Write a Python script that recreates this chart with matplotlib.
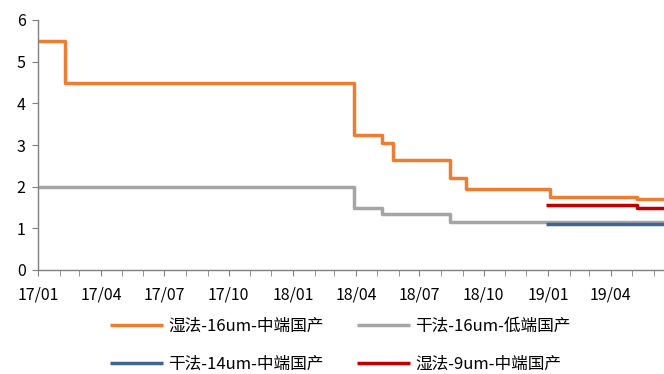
import matplotlib
matplotlib.use("Agg")
import matplotlib.pyplot as plt
import matplotlib.dates as mdates
import numpy as np

plt.rcParams['font.family'] = ['Noto Sans CJK SC', 'DejaVu Sans']

# Price step series (date of change, level)
wet16_dates = ["2017-01-01", "2017-02-08", "2018-03-29", "2018-05-08", "2018-05-24",
               "2018-08-13", "2018-09-05", "2019-01-04", "2019-05-08", "2019-06-16"]
wet16_vals = [5.5, 4.5, 3.25, 3.05, 2.65, 2.2, 1.95, 1.75, 1.7, 1.7]

dry16_dates = ["2017-01-01", "2018-03-29", "2018-05-08", "2018-08-14", "2019-06-16"]
dry16_vals = [2.0, 1.5, 1.35, 1.15, 1.15]

dry14_dates = ["2018-12-29", "2019-06-16"]
dry14_vals = [1.1, 1.1]

wet9_dates = ["2018-12-29", "2019-05-08", "2019-06-16"]
wet9_vals = [1.55, 1.5, 1.5]

series = [
    ("湿法-16um-中端国产", wet16_dates, wet16_vals, "#ED7D31"),
    ("干法-16um-低端国产", dry16_dates, dry16_vals, "#A5A5A5"),
    ("干法-14um-中端国产", dry14_dates, dry14_vals, "#3F6594"),
    ("湿法-9um-中端国产", wet9_dates, wet9_vals, "#C00000"),
]

fig = plt.figure(figsize=(6.64, 3.74), dpi=100)
ax = fig.add_axes([38 / 664, 104 / 374, 626 / 664, 250 / 374])

handles = []
for label, d, v, c in series:
    x = np.array(d, dtype="datetime64[D]")
    h, = ax.plot(x, v, drawstyle="steps-post", color=c, lw=2.5, label=label,
                 solid_capstyle="butt")
    handles.append(h)

ax.set_ylim(0, 6)
ax.set_yticks(range(0, 7))
ax.set_xlim(np.datetime64("2017-01-01"), np.datetime64("2019-06-16"))

ax.xaxis.set_major_locator(mdates.MonthLocator(bymonth=[1, 4, 7, 10]))
ax.xaxis.set_minor_locator(mdates.MonthLocator())
ax.xaxis.set_major_formatter(mdates.DateFormatter("%y/%m"))

for s in ["top", "right"]:
    ax.spines[s].set_visible(False)
for s in ["left", "bottom"]:
    ax.spines[s].set_color("#808080")
    ax.spines[s].set_linewidth(1.0)

ax.tick_params(axis="both", which="both", color="#808080", direction="out", labelsize=11.5)
ax.tick_params(axis="x", which="major", length=4, pad=8)
ax.tick_params(axis="x", which="minor", length=4)
ax.tick_params(axis="y", length=4, pad=5)

# Legend laid out row by row: two entries per row
order = [0, 2, 1, 3]
fig.legend(handles=[handles[i] for i in order], loc="upper left",
           bbox_to_anchor=(95 / 664, 1 - 303 / 374),
           ncol=2, frameon=False, fontsize=12, handlelength=3.2, handletextpad=0.3,
           columnspacing=2.0, labelspacing=1.25)

fig.savefig("out.png", dpi=100)
